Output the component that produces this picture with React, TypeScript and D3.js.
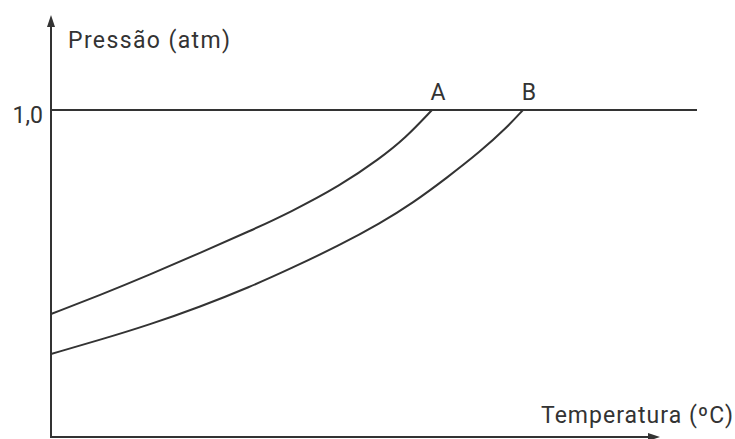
import React, { useEffect, useRef } from 'react';
import * as d3 from 'd3';

// temperature (arbitrary units, 0..100) vs pressure (atm)
const tempA = [0, 8.05, 16.26, 24.47, 32.68, 39.24, 47.46, 54.02, 58.13, 62.56];
const presA = [0.376, 0.434, 0.497, 0.563, 0.63, 0.687, 0.768, 0.852, 0.913, 1.0];

const tempB = [0, 8.05, 16.26, 24.47, 32.68, 39.24, 47.46, 54.02, 59.44, 65.02, 70.44, 74.88, 77.5];
const presB = [0.254, 0.297, 0.344, 0.398, 0.459, 0.514, 0.587, 0.653, 0.716, 0.793, 0.872, 0.947, 1.0];

const curveLabels = ['A', 'B'];
const yTickLabel = '1,0';
const yTitle = 'Pressão (atm)';
const xTitle = 'Temperatura (ºC)';

const W = 735;
const H = 439;
const ink = '#333';
const font = 'Roboto, "Liberation Sans", sans-serif';

const App: React.FC = () => {
  const svgRef = useRef<SVGSVGElement>(null);

  useEffect(() => {
    if (!svgRef.current) return;
    const svg = d3.select(svgRef.current);
    svg.selectAll('*').remove();

    const x0 = 51;
    const y0 = 437;
    const xScale = d3.scaleLinear().domain([0, 100]).range([x0, 660]);
    const yScale = d3.scaleLinear().domain([0, 1]).range([y0, 110]);

    // axes
    svg.append('line')
      .attr('x1', x0).attr('y1', y0).attr('x2', x0).attr('y2', 22)
      .attr('stroke', ink).attr('stroke-width', 2);
    svg.append('line')
      .attr('x1', x0 - 1).attr('y1', y0).attr('x2', 652).attr('y2', y0)
      .attr('stroke', ink).attr('stroke-width', 2);

    // arrow heads
    svg.append('path')
      .attr('d', `M${x0},15 L${x0 - 4},27 L${x0 + 4},27 Z`)
      .attr('fill', ink);
    svg.append('path')
      .attr('d', `M660,${y0} L648,${y0 - 4} L648,${y0 + 4} Z`)
      .attr('fill', ink);

    // 1,0 reference line
    svg.append('line')
      .attr('x1', x0).attr('y1', yScale(1)).attr('x2', 697).attr('y2', yScale(1))
      .attr('stroke', ink).attr('stroke-width', 2);

    const line = d3.line<[number, number]>()
      .x(d => xScale(d[0]))
      .y(d => yScale(d[1]))
      .curve(d3.curveBasis);

    const series: [number, number][][] = [
      tempA.map((t, i) => [t, presA[i]]),
      tempB.map((t, i) => [t, presB[i]]),
    ];

    series.forEach((pts, i) => {
      svg.append('path')
        .attr('d', line(pts))
        .attr('fill', 'none')
        .attr('stroke', ink)
        .attr('stroke-width', 2);

      const last = pts[pts.length - 1];
      svg.append('text')
        .attr('x', xScale(last[0]) + 6)
        .attr('y', yScale(1) - 10)
        .attr('text-anchor', 'middle')
        .style('font-family', font)
        .style('font-size', '23px')
        .style('fill', ink)
        .text(curveLabels[i]);
    });

    svg.append('text')
      .attr('x', 43).attr('y', 123)
      .attr('text-anchor', 'end')
      .style('font-family', font)
      .style('font-size', '23px')
      .style('fill', ink)
      .text(yTickLabel);

    svg.append('text')
      .attr('x', 68).attr('y', 48)
      .attr('textLength', 162)
      .attr('lengthAdjust', 'spacing')
      .style('font-family', font)
      .style('font-size', '23px')
      .style('fill', ink)
      .text(yTitle);

    svg.append('text')
      .attr('x', 541).attr('y', 423)
      .attr('textLength', 192)
      .attr('lengthAdjust', 'spacing')
      .style('font-family', font)
      .style('font-size', '23px')
      .style('fill', ink)
      .text(xTitle);
  }, []);

  return (
    <svg
      ref={svgRef}
      width={W}
      height={H}
      style={{ position: 'absolute', left: 0, top: 0, background: '#fff' }}
    />
  );
};

export default App;
